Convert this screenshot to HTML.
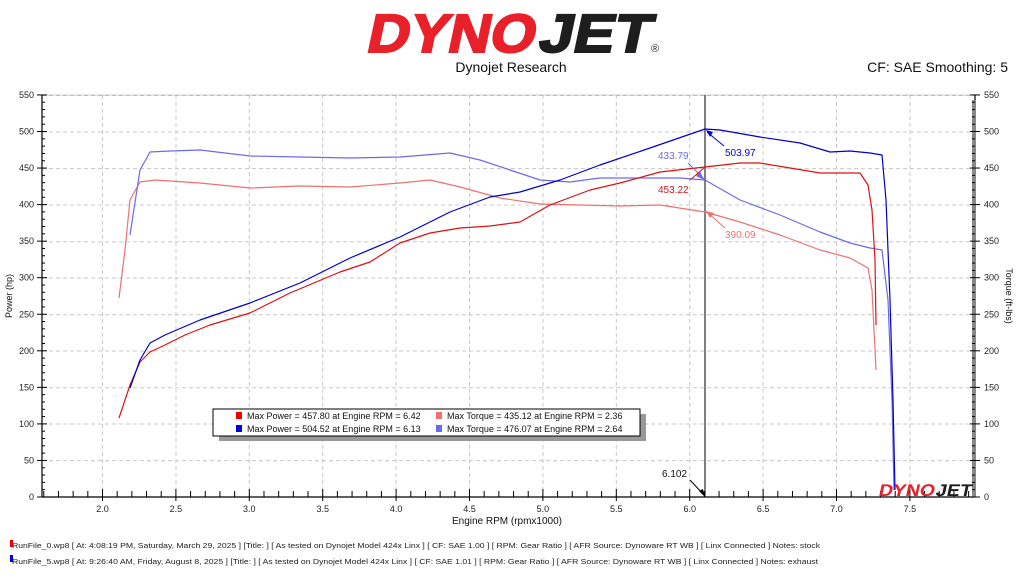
<!DOCTYPE html>
<html><head><meta charset="utf-8"><style>
body{margin:0;width:1024px;height:576px;background:#fff;overflow:hidden;font-family:"Liberation Sans",sans-serif}
</style></head><body>
<svg width="1024" height="576" xmlns="http://www.w3.org/2000/svg" font-family="Liberation Sans, sans-serif">
<!-- logo -->
<g transform="translate(365,52) skewX(-12)">
<text x="0" y="0" font-size="54" font-weight="bold" fill="#e8202a" textLength="168" lengthAdjust="spacingAndGlyphs" stroke="#e8202a" stroke-width="2">DYNO</text>
<text x="172" y="0" font-size="54" font-weight="bold" fill="#1e1e1e" textLength="112" lengthAdjust="spacingAndGlyphs" stroke="#1e1e1e" stroke-width="2">JET</text>
</g>
<text x="651" y="52" font-size="11" fill="#222">®</text>
<text x="511" y="72" font-size="14" text-anchor="middle" fill="#111">Dynojet Research</text>
<text x="1008" y="72" font-size="14" text-anchor="end" fill="#111">CF: SAE Smoothing: 5</text>
<!-- grid -->
<g stroke="#c8c8c8" stroke-dasharray="4,3" stroke-width="1">
<line x1="42" x2="975" y1="95.5" y2="95.5"/><line x1="42" x2="975" y1="132" y2="132"/><line x1="42" x2="975" y1="168.6" y2="168.6"/><line x1="42" x2="975" y1="205" y2="205"/><line x1="42" x2="975" y1="241.7" y2="241.7"/><line x1="42" x2="975" y1="278" y2="278"/><line x1="42" x2="975" y1="314.7" y2="314.7"/><line x1="42" x2="975" y1="351" y2="351"/><line x1="42" x2="975" y1="387.7" y2="387.7"/><line x1="42" x2="975" y1="424" y2="424"/><line x1="42" x2="975" y1="460.6" y2="460.6"/>
<line y1="95" y2="497" x1="102.5" x2="102.5"/><line y1="95" y2="497" x1="176" x2="176"/><line y1="95" y2="497" x1="249.3" x2="249.3"/><line y1="95" y2="497" x1="322.7" x2="322.7"/><line y1="95" y2="497" x1="396" x2="396"/><line y1="95" y2="497" x1="469.5" x2="469.5"/><line y1="95" y2="497" x1="542.9" x2="542.9"/><line y1="95" y2="497" x1="616.3" x2="616.3"/><line y1="95" y2="497" x1="689.7" x2="689.7"/><line y1="95" y2="497" x1="763" x2="763"/><line y1="95" y2="497" x1="836.5" x2="836.5"/><line y1="95" y2="497" x1="910" x2="910"/>
</g>
<!-- axes -->
<g stroke="#000" stroke-width="1.2" fill="none">
<line x1="42" y1="95" x2="42" y2="497"/><line x1="975" y1="95" x2="975" y2="497"/><line x1="42" y1="497" x2="975" y2="497"/><line x1="42" y1="95" x2="975" y2="95" stroke="#999" stroke-width="0.6"/>
</g>
<rect x="972" y="100" width="4" height="397" fill="#888"/>
<g stroke="#000" stroke-width="1" id="ticks"></g>
<g font-size="9" fill="#222" text-anchor="end" id="yl"></g>
<g font-size="9" fill="#222" id="yr"></g>
<g font-size="9" fill="#222" text-anchor="middle" id="xl"></g>
<text x="507" y="524" font-size="10" text-anchor="middle" fill="#111">Engine RPM (rpmx1000)</text>
<text transform="translate(12,296) rotate(-90)" font-size="9" text-anchor="middle" fill="#111">Power (hp)</text>
<text transform="translate(1006,296) rotate(90)" font-size="9" text-anchor="middle" fill="#111">Torque (ft-lbs)</text>
<!-- cursor -->
<line x1="705" y1="95" x2="705" y2="497" stroke="#000" stroke-width="1"/>
<!-- curves -->
<g fill="none" stroke-width="1.2" stroke-linejoin="round">
<polyline stroke="#f07070" points="119,298 125,250 130,200 140,182 155,180 200,183 250,188 300,186 350,187 400,183 430,180 460,187 500,198 540,204 580,205 620,206 660,205 705,212 740,222 780,235 820,250 850,258 868,268 872,290 876,370"/>
<polyline stroke="#6a6aee" points="130,235 140,170 150,152 170,151 200,150 250,156 300,157 350,158 400,157 450,153 480,160 510,170 540,180 570,182 600,178 640,178 680,178 705,180 740,200 780,215 820,232 850,243 870,248 882,250 888,300 892,400 894,490"/>
<polyline stroke="#dd1111" points="119,418 130,385 140,362 150,352 165,345 185,335 210,325 250,313 290,293 340,272 370,262 400,243 430,233 460,228 490,226 520,222 550,205 590,190 620,183 660,172 705,167 740,163 760,163 790,168 820,173 860,173 868,185 872,210 875,260 876,325"/>
<polyline stroke="#0000cc" points="130,388 140,360 150,343 165,335 200,320 250,303 300,283 350,258 400,237 450,212 490,197 520,192 560,180 600,165 650,148 705,129 720,130 760,137 800,143 830,152 850,151 870,153 882,155 886,200 890,300 893,400 895,490"/>
</g>
<!-- annotations -->
<g font-size="10">
<line x1="707" y1="132" x2="724" y2="146" stroke="#0000cc"/><polygon points="706,130 713,132 710,137" fill="#0000cc"/>
<text x="725" y="156" fill="#0000cc">503.97</text>
<text x="658" y="159" fill="#6a6aee">433.79</text>
<line x1="688" y1="163" x2="704" y2="179" stroke="#6a6aee"/><polygon points="704,180 696,176 700,171" fill="#6a6aee"/>
<text x="658" y="193" fill="#dd1111">453.22</text>
<line x1="690" y1="180" x2="704" y2="168" stroke="#dd1111"/>
<line x1="708" y1="213" x2="725" y2="228" stroke="#f07070"/><polygon points="706,211 714,213 710,218" fill="#f07070"/>
<text x="725" y="238" fill="#f07070">390.09</text>
<text x="662" y="477" fill="#111">6.102</text>
<line x1="690" y1="480" x2="703" y2="494" stroke="#000"/><polygon points="705,497 699,491 703,489" fill="#000"/>
</g>
<!-- legend -->
<rect x="219" y="414" width="427" height="27" fill="#999"/>
<rect x="213" y="409" width="427" height="27" fill="#fff" stroke="#000" stroke-width="1"/>
<g font-size="9" fill="#111">
<rect x="236" y="412" width="6" height="7" fill="#e00"/><text x="247" y="419">Max Power = 457.80 at Engine RPM = 6.42</text>
<rect x="436" y="412" width="6" height="7" fill="#f07070"/><text x="447" y="419">Max Torque = 435.12 at Engine RPM = 2.36</text>
<rect x="236" y="425" width="6" height="7" fill="#0000dd"/><text x="247" y="432">Max Power = 504.52 at Engine RPM = 6.13</text>
<rect x="436" y="425" width="6" height="7" fill="#6a6aee"/><text x="447" y="432">Max Torque = 476.07 at Engine RPM = 2.64</text>
</g>
<!-- small logo -->
<g transform="translate(878,496) skewX(-12)">
<text x="0" y="0" font-size="17" font-weight="bold" fill="#e8202a" textLength="56" lengthAdjust="spacingAndGlyphs">DYNO</text>
<text x="57" y="0" font-size="17" font-weight="bold" fill="#1e1e1e" textLength="36" lengthAdjust="spacingAndGlyphs">JET</text>
</g>
<!-- footer -->
<g font-size="7.5" fill="#222">
<rect x="10" y="540" width="3" height="7" fill="#e00"/>
<text x="12" y="548" textLength="808" lengthAdjust="spacingAndGlyphs">RunFile_0.wp8 [ At: 4:08:19 PM, Saturday, March 29, 2025 ] [Title: ]  [ As tested on Dynojet Model 424x Linx ] [ CF: SAE 1.00 ] [ RPM: Gear Ratio ] [ AFR Source: Dynoware RT WB ] [ Linx Connected ] Notes: stock</text>
<rect x="10" y="555" width="3" height="7" fill="#00d"/>
<text x="12" y="564" textLength="806" lengthAdjust="spacingAndGlyphs">RunFile_5.wp8 [ At: 9:26:40 AM, Friday, August 8, 2025 ] [Title: ]  [ As tested on Dynojet Model 424x Linx ] [ CF: SAE 1.01 ] [ RPM: Gear Ratio ] [ AFR Source: Dynoware RT WB ] [ Linx Connected ] Notes: exhaust</text>
</g>
<script>
var ns="http://www.w3.org/2000/svg";
function el(p,t,a,txt){var e=document.createElementNS(ns,t);for(var k in a)e.setAttribute(k,a[k]);if(txt)e.textContent=txt;document.getElementById(p).appendChild(e);}
for(var v=0;v<=550;v+=10){var y=497-v*0.731;var big=v%50==0;
el("ticks","line",{x1:42-(big?5:0),x2:42+(big?5:3),y1:y,y2:y});
el("ticks","line",{x1:975-(big?5:3),x2:975+(big?5:0),y1:y,y2:y});
if(big){el("yl","text",{x:34,y:y+3},""+v);el("yr","text",{x:984,y:y+3},""+v);}}
for(var r=16;r<=79;r++){var x=102.5+(r/10-2)*146.8;var big=r%5==0;
el("ticks","line",{x1:x,x2:x,y1:497-(big?8:6),y2:497+(big?4:0)});
if(big&&r>=20&&r<=75)el("xl","text",{x:x,y:512},(r/10).toFixed(1));}
</script>
</svg>
</body></html>
